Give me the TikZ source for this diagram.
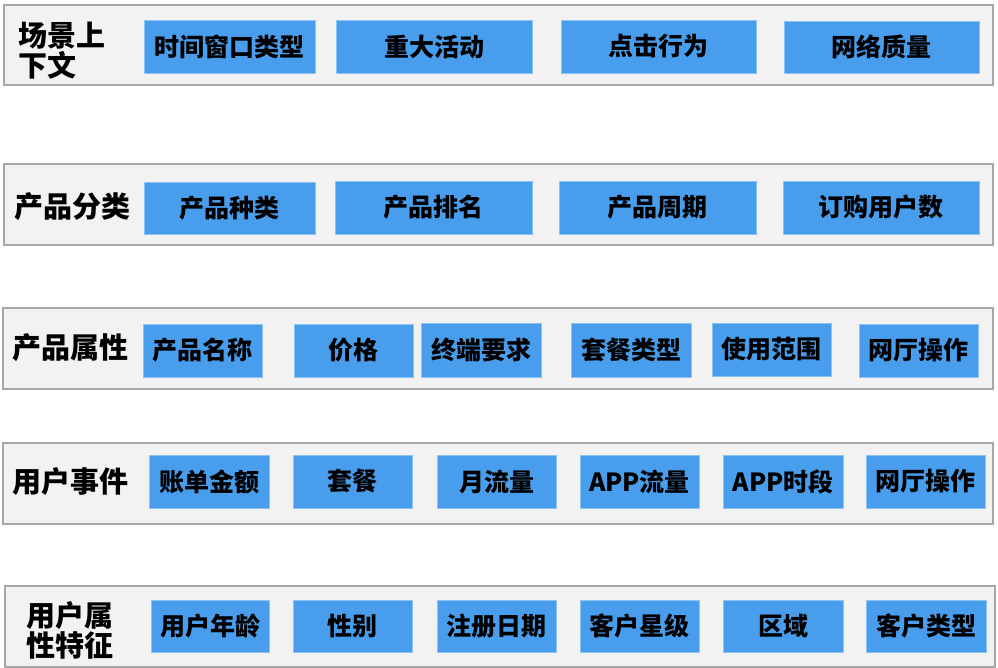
\documentclass[tikz,border=0pt]{standalone}
\usepackage{fontspec}
\setmainfont{Noto Sans CJK SC}
\definecolor{boxblue}{HTML}{489EEC}
\definecolor{boxedge}{HTML}{8CC3F2}
\definecolor{panelfill}{HTML}{F2F2F2}
\definecolor{paneledge}{HTML}{A6A6A6}
\newcommand\itembox[6]{%
  \node[itemstyle, minimum width={(#3-#2)*1pt}, minimum height={(#5-#4)*1pt}]
    (#1) at ({(#2+#3)/2},{(#4+#5)/2}) {#6};}
\newcommand\panel[5]{%
  \node[panelstyle, minimum width={(#3-#2)*1pt}, minimum height={(#5-#4)*1pt}]
    (#1) at ({(#2+#3)/2},{(#4+#5)/2}) {};}
\begin{document}
\begin{tikzpicture}[x=1pt,y=-1pt,
  itemstyle/.style={draw=boxedge, line width=0.8pt, fill=boxblue, inner sep=0pt,
    font=\fontsize{25}{27}\selectfont\bfseries, text=black},
  panelstyle/.style={draw=paneledge, line width=2.2pt, fill=panelfill, inner sep=0pt},
  labelstyle/.style={anchor=west, align=left, inner sep=0pt,
    font=\fontsize{29}{30}\selectfont\bfseries, text=black}]
\useasboundingbox (0,0) rectangle (998,668);
% panels
\panel{p1}{4}{993}{5}{85}
\panel{p2}{4}{993}{164}{245}
\panel{p3}{3}{993}{308}{389}
\panel{p4}{3}{993}{443}{524}
\panel{p5}{5}{995}{586}{667}
% labels
\node[labelstyle] (l1) at (18,51) {场景上\\下文};
\node[labelstyle] (l2) at (14,207) {产品分类};
\node[labelstyle] (l3) at (12,348) {产品属性};
\node[labelstyle] (l4) at (12,482) {用户事件};
\node[labelstyle] (l5) at (26,630) {用户属\\性特征};
% row 1
\itembox{a1}{144}{315}{20}{73}{时间窗口类型}
\itembox{a2}{336}{532}{20}{73}{重大活动}
\itembox{a3}{561}{756}{20}{73}{点击行为}
\itembox{a4}{784}{979}{21}{73}{网络质量}
% row 2
\itembox{b1}{144}{315}{182}{234}{产品种类}
\itembox{b2}{335}{532}{181}{234}{产品排名}
\itembox{b3}{559}{756}{181}{234}{产品周期}
\itembox{b4}{783}{979}{181}{234}{订购用户数}
% row 3
\itembox{c1}{143}{262}{324}{377}{产品名称}
\itembox{c2}{294}{413}{324}{377}{价格}
\itembox{c3}{421}{541}{323}{377}{终端要求}
\itembox{c4}{571}{691}{323}{377}{套餐类型}
\itembox{c5}{712}{831}{323}{376}{使用范围}
\itembox{c6}{859}{978}{324}{377}{网厅操作}
% row 4
\itembox{d1}{149}{269}{455}{508}{账单金额}
\itembox{d2}{293}{412}{455}{508}{套餐}
\itembox{d3}{437}{556}{455}{508}{月流量}
\itembox{d4}{580}{699}{455}{508}{APP流量}
\itembox{d5}{723}{843}{455}{508}{APP时段}
\itembox{d6}{866}{985}{455}{508}{网厅操作}
% row 5
\itembox{e1}{151}{269}{600}{652}{用户年龄}
\itembox{e2}{293}{412}{600}{652}{性别}
\itembox{e3}{437}{556}{600}{652}{注册日期}
\itembox{e4}{580}{699}{600}{652}{客户星级}
\itembox{e5}{723}{843}{600}{652}{区域}
\itembox{e6}{866}{986}{600}{652}{客户类型}
\end{tikzpicture}
\end{document}
